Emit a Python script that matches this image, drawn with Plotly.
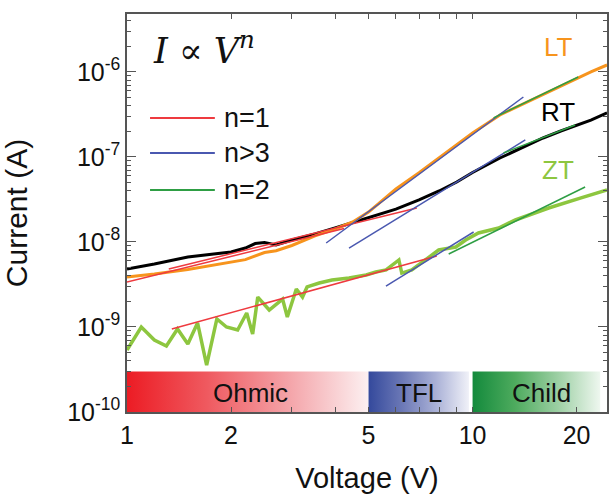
import plotly.graph_objects as go

# ---------------- data ----------------
rt_v = [1.0, 1.2, 1.5, 2.0, 2.2, 2.35, 2.5, 2.7, 3.0, 3.5, 4.0, 4.5, 5.0, 6.0, 7.0, 8.0, 9.0,
        10.0, 12.0, 14.0, 16.0, 18.0, 20.0, 22.0, 24.5]
rt_i = [4.81e-9, 5.51e-9, 6.66e-9, 7.62e-9, 8.49e-9, 9.59e-9, 9.86e-9, 9.23e-9, 1.055e-8,
        1.241e-8, 1.462e-8, 1.693e-8, 1.914e-8, 2.44e-8, 3.12e-8, 3.98e-8, 5.08e-8,
        6.57e-8, 9.73e-8, 1.313e-7, 1.673e-7, 2.02e-7, 2.38e-7, 2.72e-7, 3.30e-7]

lt_v = [1.0, 1.2, 1.5, 2.0, 2.2, 2.5, 2.7, 3.0, 3.5, 4.0, 4.5, 5.0, 6.0, 7.0, 8.0, 9.0,
        10.0, 12.0, 14.0, 16.0, 18.0, 20.0, 22.0, 24.5]
lt_i = [3.87e-9, 4.20e-9, 4.74e-9, 5.82e-9, 6.2e-9, 7.51e-9, 7.9e-9, 9.10e-9, 1.178e-8,
        1.422e-8, 1.718e-8, 2.25e-8, 4.20e-8, 6.53e-8, 9.73e-8, 1.384e-7,
        1.914e-7, 3.12e-7, 4.20e-7, 5.36e-7, 6.84e-7, 8.28e-7, 1.0e-6, 1.208e-6]

zt_v = [1.0, 1.1, 1.2, 1.3, 1.4, 1.5, 1.6, 1.7, 1.82, 1.94, 2.09, 2.22, 2.31, 2.39, 2.58,
        2.82, 2.91, 3.09, 3.22, 3.32, 3.6, 3.92, 4.39, 4.92, 5.25, 5.62, 6.12, 6.24, 6.67,
        7.32, 7.98, 8.94, 9.55, 10.4, 11.9, 13.3, 16.6, 20.6, 24.5]
zt_i = [5.36e-10, 1.0e-9, 7.03e-10, 5.98e-10, 9.47e-10, 6.31e-10, 1.115e-9, 3.57e-10,
        1.242e-9, 1.0e-9, 9.22e-10, 1.462e-9, 8.27e-10, 2.25e-9, 1.585e-9, 2.13e-9,
        1.31e-9, 2.80e-9, 2.25e-9, 2.96e-9, 3.29e-9, 3.57e-9, 3.77e-9, 4.09e-9, 4.44e-9,
        4.69e-9, 6.14e-9, 4.31e-9, 4.69e-9, 6.14e-9, 8.05e-9, 8.73e-9, 1.055e-8,
        1.277e-8, 1.462e-8, 1.815e-8, 2.51e-8, 3.30e-8, 4.09e-8]

# fit segments: [v_start, v_end], [i_start, i_end]
fit_n1 = [([1.321, 6.896], [4.81e-9, 2.51e-8]),
          ([1.0, 4.25], [3.38e-9, 1.437e-8]),
          ([1.348, 7.876], [9.47e-10, 6.84e-9])]
fit_n3 = [([3.77, 14.03], [9.73e-9, 5.08e-7]),
          ([4.39, 14.21], [8.49e-9, 1.585e-7]),
          ([5.615, 10.07], [3.03e-9, 1.311e-8])]
fit_n2 = [([11.50, 20.21], [2.88e-7, 8.73e-7]),
          ([12.29, 19.81], [1.114e-7, 2.38e-7]),
          ([8.53, 21.17], [7.23e-9, 4.44e-8])]

regions = ["Ohmic", "TFL", "Child"]
region_v = [(1.0, 5.0), (5.0, 9.76), (10.0, 23.4)]
region_i = (1e-10, 3e-10)
region_colors = [["#ec1c24", "#ef5a60", "#f4a3a8", "#fcf0f1"],
                 ["#34499c", "#6b78b6", "#a9b0d6", "#f0f1f8"],
                 ["#138a3c", "#4eab5e", "#9ccfa3", "#eef7ef"]]

legend_labels = ["n=1", "n>3", "n=2"]
fit_colors = ["#ee3a3f", "#4a58b0", "#2e9e44"]

curve_labels = ["LT", "RT", "ZT"]
curve_colors = ["#f7941d", "#000000", "#8dc63f"]

# ---------------- figure ----------------
fig = go.Figure()

for (v0, v1), cols in zip(region_v, region_colors):
    n = len(cols) - 1
    fig.add_trace(go.Scatter(
        x=[v0, v1, v1, v0, v0],
        y=[region_i[0], region_i[0], region_i[1], region_i[1], region_i[0]],
        mode="lines", fill="toself", line=dict(width=0),
        fillgradient=dict(type="horizontal",
                          colorscale=[[k / n, c] for k, c in enumerate(cols)]),
        hoverinfo="skip", showlegend=False))

fig.add_trace(go.Scatter(x=zt_v, y=zt_i, mode="lines",
                         line=dict(color=curve_colors[2], width=3.5), showlegend=False))
fig.add_trace(go.Scatter(x=rt_v, y=rt_i, mode="lines",
                         line=dict(color=curve_colors[1], width=3), showlegend=False))
fig.add_trace(go.Scatter(x=lt_v, y=lt_i, mode="lines",
                         line=dict(color=curve_colors[0], width=3), showlegend=False))

for fits, col in zip([fit_n1, fit_n3, fit_n2], fit_colors):
    for vv, ii in fits:
        fig.add_trace(go.Scatter(x=vv, y=ii, mode="lines",
                                 line=dict(color=col, width=1.5), showlegend=False))

annotations = []
shapes = []
font = "Liberation Sans, Arial, sans-serif"

# legend (drawn manually)
leg_y = [0.7387, 0.6508, 0.5578]
for lab, col, yy in zip(legend_labels, fit_colors, leg_y):
    shapes.append(dict(type="line", xref="paper", yref="paper", x0=0.048, x1=0.183,
                       y0=yy, y1=yy, line=dict(color=col, width=2)))
    annotations.append(dict(text=lab, xref="paper", yref="paper", x=0.198, y=yy,
                            xanchor="left", yanchor="middle", showarrow=False,
                            font=dict(family=font, size=27, color="#111")))

annotations.append(dict(text="<i>I</i> ∝ <i>V</i><sup><i>n</i></sup>", xref="paper", yref="paper",
                        x=0.050, y=0.915, xanchor="left", yanchor="middle", showarrow=False,
                        font=dict(family="DejaVu Serif, serif", size=35, color="#111")))

lab_y = [0.917, 0.754, 0.608]
for lab, col, yy in zip(curve_labels, curve_colors, lab_y):
    annotations.append(dict(text=lab, xref="paper", yref="paper", x=0.898, y=yy,
                            xanchor="center", yanchor="middle", showarrow=False,
                            font=dict(family=font, size=26, color=col)))

reg_x = [0.257, 0.608, 0.863]
for lab, xx in zip(regions, reg_x):
    annotations.append(dict(text=lab, xref="paper", yref="paper", x=xx, y=0.048,
                            xanchor="center", yanchor="middle", showarrow=False,
                            font=dict(family=font, size=26, color="#111")))

x_major = [1, 2, 5, 10, 20]
x_minor = [3, 4, 6, 7, 8, 9]
y_major = [1e-10, 1e-9, 1e-8, 1e-7, 1e-6]
y_major_text = ["10<sup>-10</sup>", "10<sup>-9</sup>", "10<sup>-8</sup>",
                "10<sup>-7</sup>", "10<sup>-6</sup>"]
y_minor = [m * 10.0 ** e for e in range(-10, -5) for m in range(2, 10)]

axis_col = "#555555"
fig.update_layout(
    width=611, height=494,
    margin=dict(l=127, r=2, t=14, b=82),
    paper_bgcolor="white", plot_bgcolor="white",
    font=dict(family=font, color="#111"),
    showlegend=False,
    shapes=shapes, annotations=annotations,
    xaxis=dict(type="log", range=[0, 1.389],
               tickmode="array", tickvals=x_major, ticktext=[str(v) for v in x_major],
               ticks="inside", ticklen=5, tickwidth=1, tickcolor=axis_col,
               minor=dict(tickmode="array", tickvals=x_minor, ticks="inside",
                          ticklen=5, tickcolor=axis_col),
               showline=True, linecolor=axis_col, linewidth=1.5, mirror="ticks",
               showgrid=False, zeroline=False,
               tickfont=dict(size=25, family=font, color="#111"),
               title=dict(text="Voltage (V)", font=dict(size=29, family=font, color="#111"),
                          standoff=20)),
    yaxis=dict(type="log", range=[-10, -5.318],
               tickmode="array", tickvals=y_major, ticktext=y_major_text,
               ticks="inside", ticklen=9, tickwidth=1, tickcolor=axis_col,
               minor=dict(tickmode="array", tickvals=y_minor, ticks="inside",
                          ticklen=4, tickcolor=axis_col),
               showline=True, linecolor=axis_col, linewidth=1.5, mirror="ticks",
               showgrid=False, zeroline=False,
               tickfont=dict(size=25, family=font, color="#111"),
               title=dict(text="Current (A)", font=dict(size=30, family=font, color="#111"),
                          standoff=31)),
)

fig.write_html("out.html", config={"displayModeBar": False},
               post_script="document.body.style.margin='0';document.body.style.overflow='hidden';")
